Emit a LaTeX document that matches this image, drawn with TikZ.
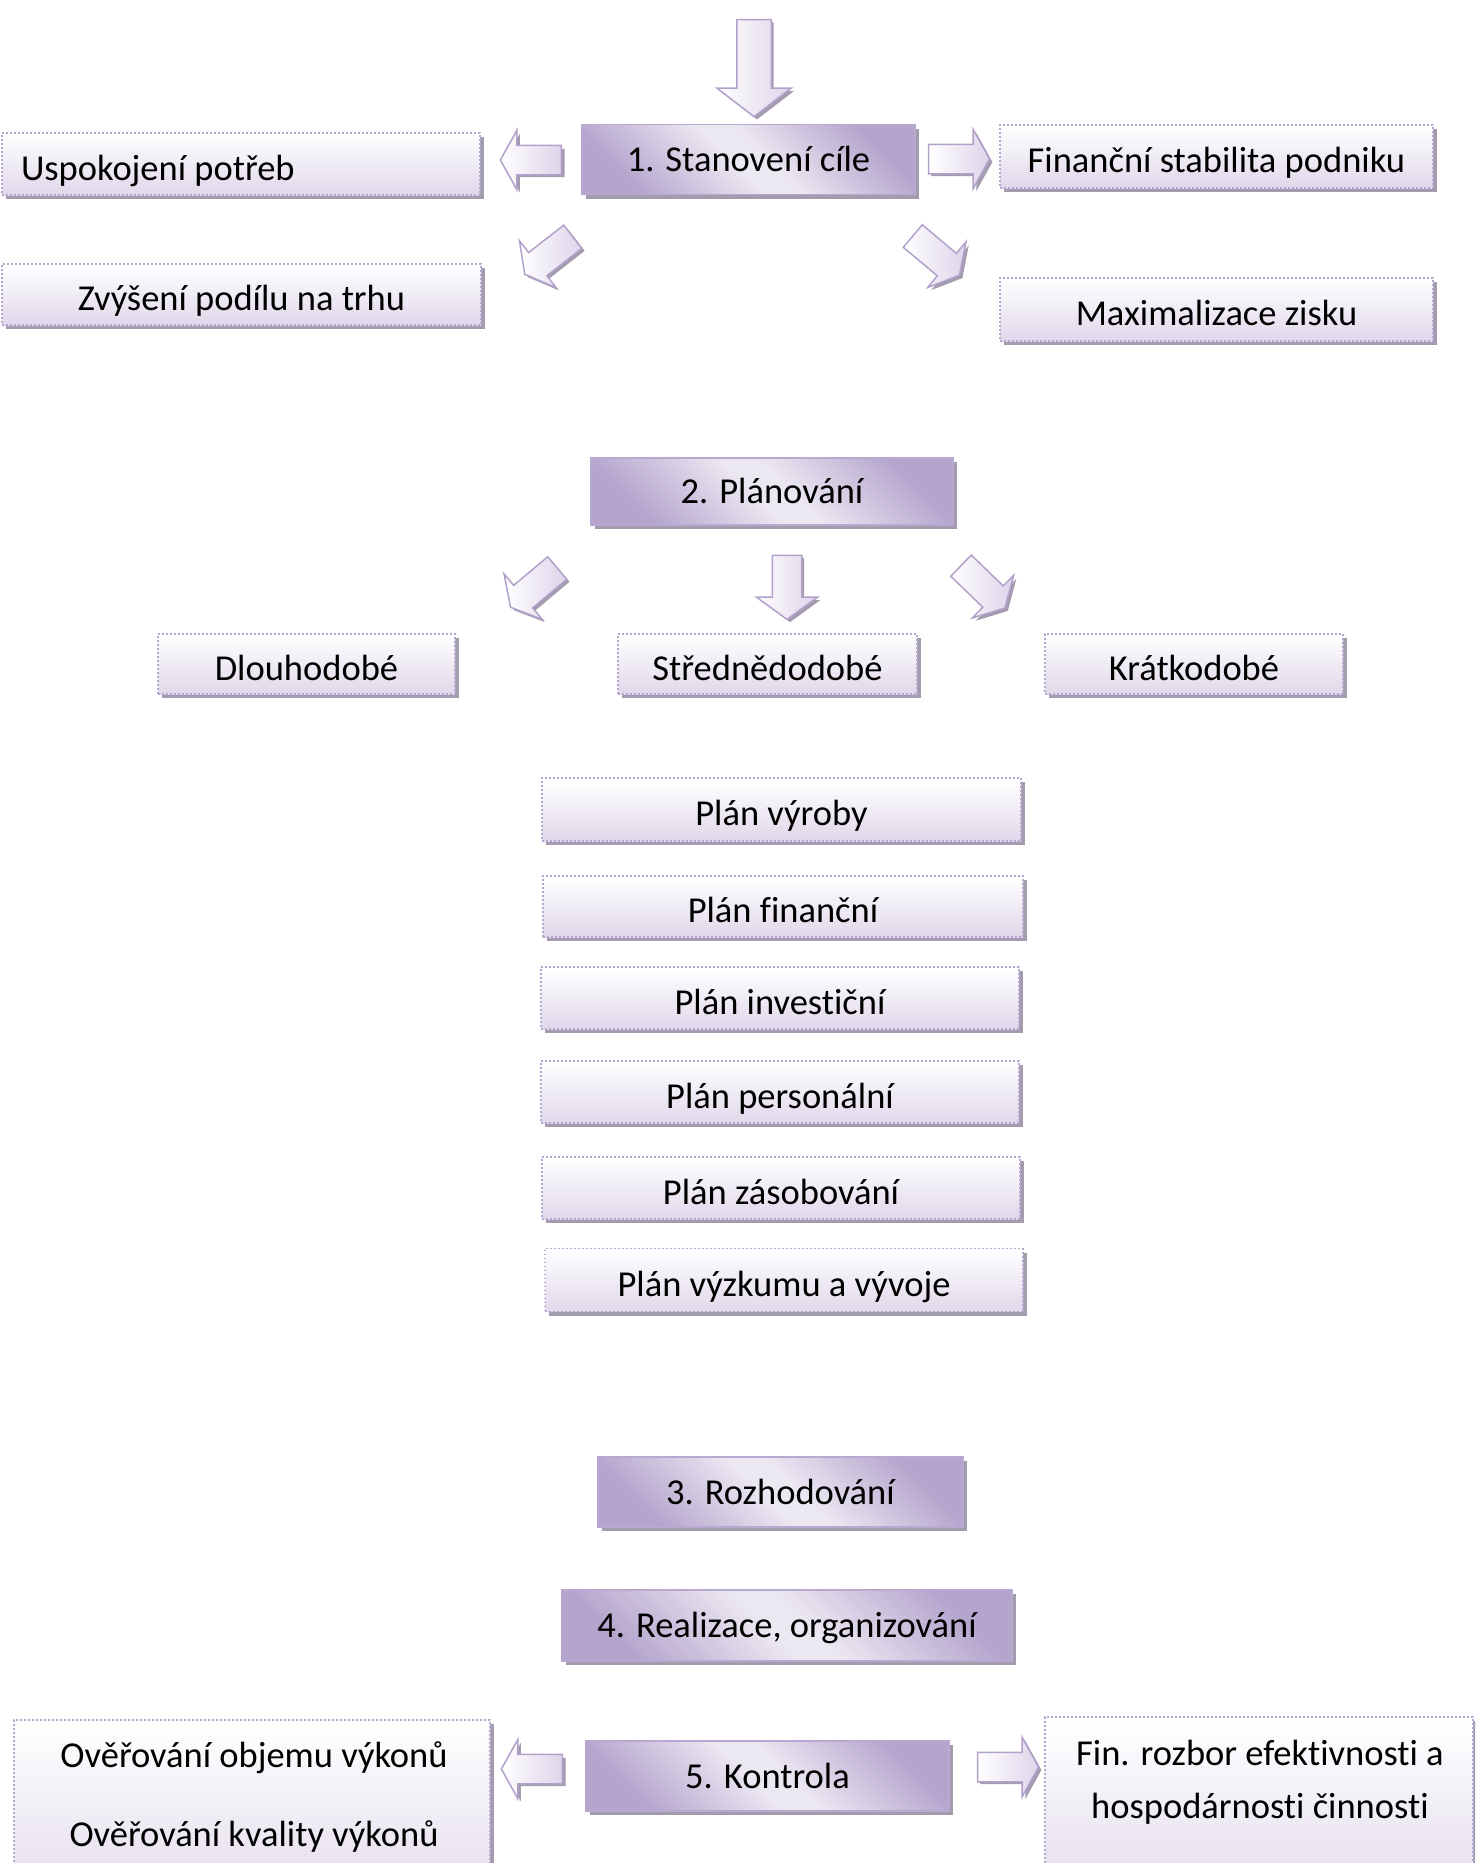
\documentclass[tikz,border=0pt]{standalone}
\usepackage{fontspec}
\setmainfont{Carlito}[Ligatures={NoCommon}]
\usetikzlibrary{shapes.arrows,shadows}
\definecolor{shadowc}{HTML}{A39CAF}
\definecolor{dotline}{HTML}{B4A6D0}
\definecolor{boxbot}{HTML}{E0D8EA}
\definecolor{stepline}{HTML}{B7A9D0}
\definecolor{stepdark}{HTML}{B5A5CD}
\definecolor{steplight}{HTML}{ECE8F2}
\definecolor{arrowline}{HTML}{B2A2CB}
\definecolor{arrowfill}{HTML}{DDD4EA}
\pgfdeclarehorizontalshading{stepgrad}{100bp}{color(0bp)=(stepdark); color(25bp)=(stepdark); color(47bp)=(steplight); color(53bp)=(steplight); color(75bp)=(stepdark); color(100bp)=(stepdark)}
\tikzset{
  boxshadow/.style={drop shadow={shadow xshift=4pt,shadow yshift=-4pt,fill=shadowc,draw=none,opacity=1}},
  gbox/.style={draw=dotline, line width=1.6pt, dash pattern=on 1.6pt off 2.4pt,
    top color=white, bottom color=boxbot, boxshadow, inner sep=0pt,
    font=\fontsize{36.5}{44}\selectfont, text=black, text height=36pt, text depth=4pt},
  stepbox/.style={draw=stepline, line width=1.6pt, shading=stepgrad, shading angle=45,
    boxshadow, inner sep=0pt,
    font=\fontsize{36.5}{44}\selectfont, text=black, text height=30pt, text depth=6pt},
  plainline/.style={font=\fontsize{36.5}{44}\selectfont, text=black, inner sep=0pt, anchor=base},
  arrowshape/.style={single arrow, inner sep=0pt, minimum width=0pt,
    single arrow head extend=15pt, single arrow tip angle=122, minimum height=61pt},
  bigarrow/.style={single arrow head extend=20pt, single arrow tip angle=105, minimum height=97pt},
  midarrow/.style={single arrow head extend=16pt, single arrow tip angle=108, minimum height=64pt},
  arrowlook/.style={draw=arrowline, line width=1.5pt, left color=white, right color=arrowfill},
}
% block arrow: name, x, y(down), angle, extra style, shaft width
\newcommand\barrow[6]{%
  \node[arrowshape,#5,fill=shadowc,rotate=#4] (#1s) at ({#2+3},{-#3-3}) {\rule{0pt}{#6}};
  \node[arrowshape,#5,arrowlook,rotate=#4] (#1) at ({#2},{-#3}) {\rule{0pt}{#6}};
}
\begin{document}
\begin{tikzpicture}[x=1pt,y=1pt]
\useasboundingbox (0,0) rectangle (1475,-1863);
\clip (0,0) rectangle (1475,-1863);

% --- Step 1 ---
\barrow{a0}{754}{61.5}{-90}{bigarrow}{33pt}
\node[stepbox, minimum width=333pt, minimum height=70pt] (s1) at (748.5,-159.5) {1. Stanovení cíle};
\node[gbox, minimum height=62pt, text width=440pt, inner xsep=19pt, align=flush left] (g1) at (241,-164) {Uspokojení potřeb};
\node[gbox, minimum width=433pt, minimum height=63pt] (g2) at (1216.5,-156.5) {Finanční stabilita podniku};
\node[gbox, minimum width=479pt, minimum height=61pt] (g3) at (241.5,-294.5) {Zvýšení podílu na trhu};
\node[gbox, minimum width=433pt, minimum height=63pt] (g4) at (1216.5,-309.5) {Maximalizace zisku};
\barrow{aL1}{535}{160}{180}{}{28pt}
\barrow{aR1}{955}{159}{0}{}{28pt}
\barrow{aDL1}{552}{253}{218}{}{28pt}
\barrow{aDR1}{933}{253}{-40}{}{28pt}

% --- Step 2 ---
\node[stepbox, minimum width=362pt, minimum height=67pt] (s2) at (772,-491.5) {2. Plánování};
\barrow{aDL2}{537}{585}{220}{}{28pt}
\barrow{aD2}{787}{582}{-90}{midarrow}{28pt}
\barrow{aDR2}{980}{584}{-44}{}{28pt}
\node[gbox, minimum width=297pt, minimum height=60pt] (d1) at (306.5,-664) {Dlouhodobé};
\node[gbox, minimum width=299pt, minimum height=60pt] (d2) at (767.5,-664) {Střednědodobé};
\node[gbox, minimum width=298pt, minimum height=60pt] (d3) at (1194,-664) {Krátkodobé};

\node[gbox, minimum width=479pt, minimum height=63pt] (p1) at (781.5,-809.5) {Plán výroby};
\node[gbox, minimum width=480pt, minimum height=61pt] (p2) at (783,-906.5) {Plán finanční};
\node[gbox, minimum width=478pt, minimum height=62pt] (p3) at (780,-998) {Plán investiční};
\node[gbox, minimum width=478pt, minimum height=62pt] (p4) at (780,-1092) {Plán personální};
\node[gbox, minimum width=478pt, minimum height=62pt] (p5) at (781,-1188) {Plán zásobování};
\node[gbox, minimum width=478pt, minimum height=63pt] (p6) at (784,-1280) {Plán výzkumu a vývoje};

% --- Steps 3, 4 ---
\node[stepbox, minimum width=365pt, minimum height=70pt] (s3) at (780.5,-1492) {3. Rozhodování};
\node[stepbox, minimum width=450pt, minimum height=71pt] (s4) at (787,-1625.5) {4. Realizace, organizování};

% --- Step 5 ---
\node[stepbox, minimum width=363pt, minimum height=70pt] (s5) at (767.5,-1776) {5. Kontrola};
\barrow{aL5}{536}{1769}{180}{}{28pt}
\barrow{aR5}{1004}{1767}{0}{}{28pt}
\node[gbox, minimum width=476pt, minimum height=200pt] (k1) at (252,-1820) {};
\node[gbox, minimum width=428pt, minimum height=200pt] (k2) at (1259,-1817) {};
\node[plainline] (k1a) at (254,-1767) {Ověřování objemu výkonů};
\node[plainline] (k1b) at (254,-1846) {Ověřování kvality výkonů};
\node[plainline] (k2a) at (1260,-1765) {Fin. rozbor efektivnosti a};
\node[plainline] (k2b) at (1260,-1818) {hospodárnosti činnosti};
\end{tikzpicture}
\end{document}
